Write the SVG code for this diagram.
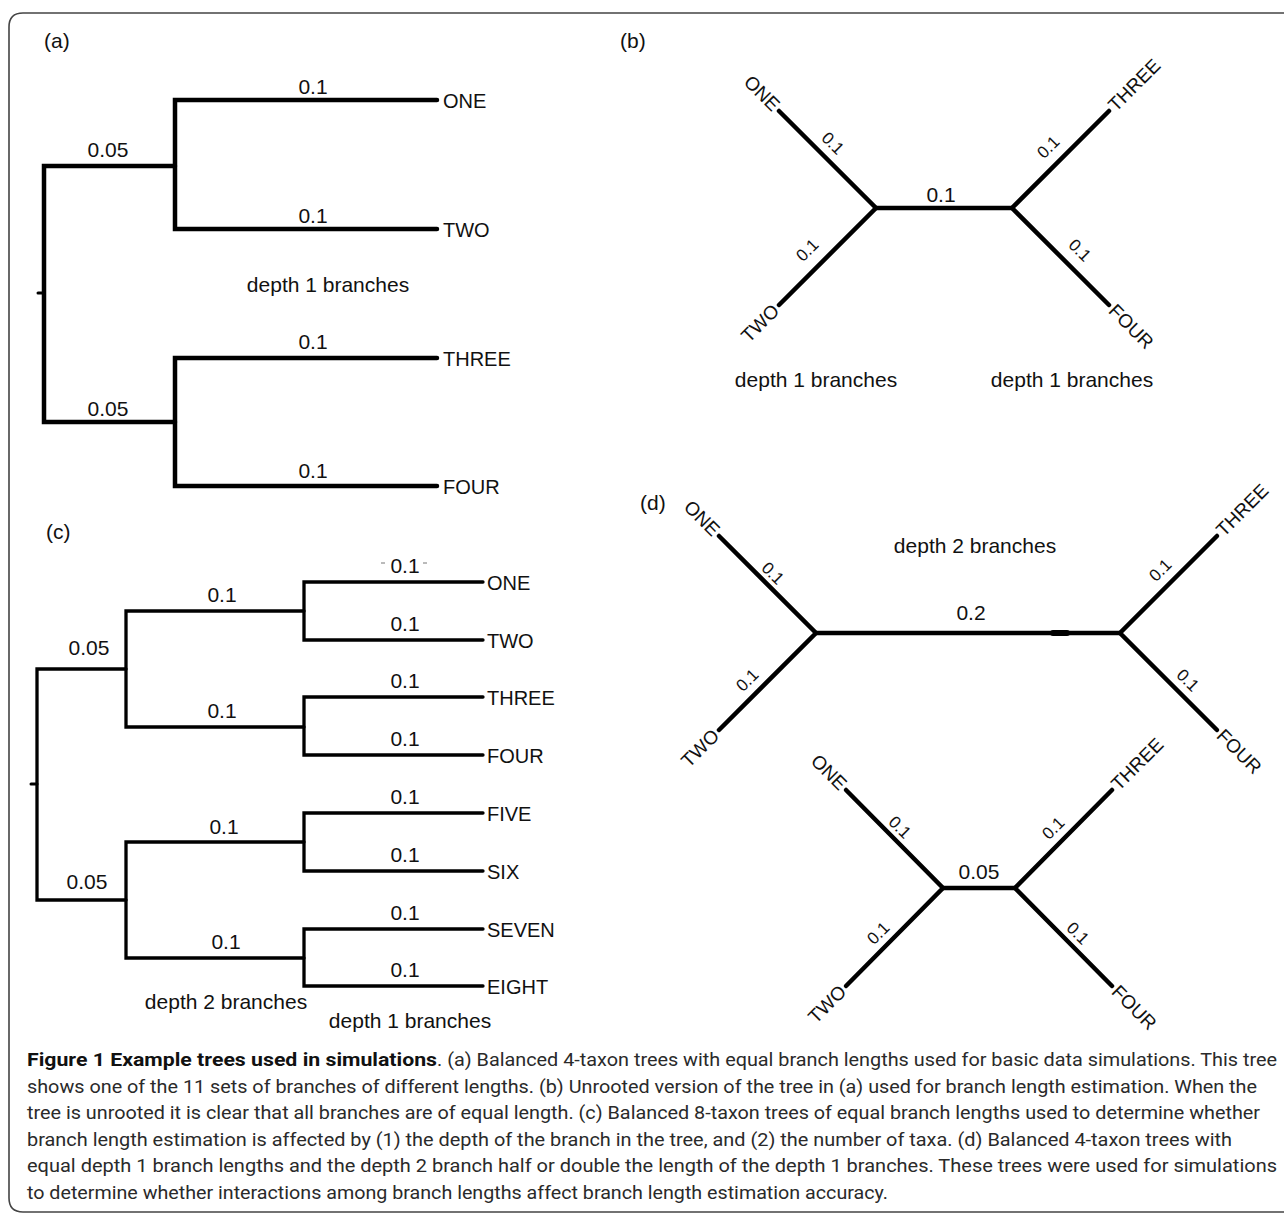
<svg xmlns="http://www.w3.org/2000/svg" width="1284" height="1213" viewBox="0 0 1284 1213">
<style>
text{font-family:"Liberation Sans",Arial,sans-serif;fill:#111}
.n{font-size:21px;text-anchor:middle}
.t{font-size:20px}
.r{font-size:17px;text-anchor:middle}
.rt{font-size:19px}
.e{text-anchor:end}
.d{font-size:21px;text-anchor:middle}
.p{font-size:21px}
.br{fill:none;stroke:#000;stroke-linecap:round;stroke-linejoin:miter}
.w4{stroke-width:4.5}
.w3{stroke-width:3.3}
.cap{font-family:Roboto,"Liberation Sans",sans-serif;font-size:18px;fill:#2a2a2a}
.capb{font-weight:bold;fill:#111}
</style>
<rect x="0" y="0" width="1284" height="1213" fill="#fff"/>
<path d="M1290,13 H23 Q9,13 9,27 V1198 Q9,1212 23,1212 H1290" fill="none" stroke="#444" stroke-width="1.6"/>

<g id="connectors">
  <!-- (a) -->
  <path class="br w4" d="M437,100 H175 V229 H437"/>
  <path class="br w4" d="M437,358 H175 V486 H437"/>
  <path class="br w4" d="M175,166 H44 V422 H175"/>
  <path class="br" stroke-width="3" d="M38,293 H44"/>
  <!-- (b) -->
  <path class="br w4" d="M779,111 L876,208 L779,305"/>
  <path class="br w4" d="M876,208 H1012"/>
  <path class="br w4" d="M1109,111 L1012,208 L1109,305"/>
  <!-- (c) -->
  <path class="br w3" d="M483,582 H304 V640 H483"/>
  <path class="br w3" d="M483,697 H304 V755 H483"/>
  <path class="br w3" d="M483,813 H304 V871 H483"/>
  <path class="br w3" d="M483,929 H304 V986 H483"/>
  <path class="br w3" d="M304,611 H126 V727 H304"/>
  <path class="br w3" d="M304,842 H126 V958 H304"/>
  <path class="br w3" d="M126,669 H37 V900 H126"/>
  <path class="br" stroke-width="3" d="M31,784 H37"/>
  <!-- (d) upper -->
  <path class="br w4" d="M719,536 L816,633 L719,730"/>
  <path class="br w4" d="M816,633 H1120"/>
  <path class="br" stroke-width="6" d="M1053,633 H1067"/>
  <path class="br w4" d="M1217,536 L1120,633 L1217,730"/>
  <!-- (d) lower -->
  <path class="br w4" d="M846,790 L943,888 L846,986"/>
  <path class="br w4" d="M943,888 H1015"/>
  <path class="br w4" d="M1112,790 L1015,888 L1112,986"/>
</g>

<g id="panel-a">
  <text id="a-label" class="p" x="44" y="48">(a)</text>
  <g id="a-one"><text class="t" x="443" y="108">ONE</text><text class="n" x="313" y="94">0.1</text></g>
  <g id="a-two"><text class="t" x="443" y="237">TWO</text><text class="n" x="313" y="223">0.1</text></g>
  <g id="a-three"><text class="t" x="443" y="366">THREE</text><text class="n" x="313" y="349">0.1</text></g>
  <g id="a-four"><text class="t" x="443" y="494">FOUR</text><text class="n" x="313" y="478">0.1</text></g>
  <g id="a-int1"><text class="n" x="108" y="157">0.05</text></g>
  <g id="a-int2"><text class="n" x="108" y="416">0.05</text></g>
  <text class="d" x="328" y="292">depth 1 branches</text>
</g>

<g id="panel-b">
  <text id="b-label" class="p" x="620" y="48">(b)</text>
  <g id="b-one"><text class="rt e" transform="translate(779,111) rotate(45)" x="-4" y="6">ONE</text><text class="r" transform="translate(833,143) rotate(45)" y="6">0.1</text></g>
  <g id="b-two"><text class="rt e" transform="translate(779,305) rotate(-45)" x="-4" y="6">TWO</text><text class="r" transform="translate(807,250) rotate(-45)" y="6">0.1</text></g>
  <g id="b-three"><text class="rt" transform="translate(1109,111) rotate(-45)" x="4" y="6">THREE</text><text class="r" transform="translate(1048,147) rotate(-45)" y="6">0.1</text></g>
  <g id="b-four"><text class="rt" transform="translate(1109,305) rotate(45)" x="4" y="6">FOUR</text><text class="r" transform="translate(1080,250) rotate(45)" y="6">0.1</text></g>
  <g id="b-int"><text class="n" x="941" y="202">0.1</text></g>
  <text class="d" x="816" y="387">depth 1 branches</text>
  <text class="d" x="1072" y="387">depth 1 branches</text>
</g>

<g id="panel-c">
  <text id="c-label" class="p" x="46" y="539">(c)</text>
  <g id="c-one"><text class="t" x="487" y="590">ONE</text><text class="n" x="405" y="573">0.1</text>
    <path d="M381,563 H385 M423,563 H427" stroke="#777" stroke-width="1"/></g>
  <g id="c-two"><text class="t" x="487" y="648">TWO</text><text class="n" x="405" y="631">0.1</text></g>
  <g id="c-three"><text class="t" x="487" y="705">THREE</text><text class="n" x="405" y="688">0.1</text></g>
  <g id="c-four"><text class="t" x="487" y="763">FOUR</text><text class="n" x="405" y="746">0.1</text></g>
  <g id="c-five"><text class="t" x="487" y="821">FIVE</text><text class="n" x="405" y="804">0.1</text></g>
  <g id="c-six"><text class="t" x="487" y="879">SIX</text><text class="n" x="405" y="862">0.1</text></g>
  <g id="c-seven"><text class="t" x="487" y="937">SEVEN</text><text class="n" x="405" y="920">0.1</text></g>
  <g id="c-eight"><text class="t" x="487" y="994">EIGHT</text><text class="n" x="405" y="977">0.1</text></g>
  <g id="c-d2a"><text class="n" x="222" y="602">0.1</text></g>
  <g id="c-d2b"><text class="n" x="222" y="718">0.1</text></g>
  <g id="c-d2c"><text class="n" x="224" y="834">0.1</text></g>
  <g id="c-d2d"><text class="n" x="226" y="949">0.1</text></g>
  <g id="c-r1"><text class="n" x="89" y="655">0.05</text></g>
  <g id="c-r2"><text class="n" x="87" y="889">0.05</text></g>
  <text class="d" x="226" y="1009">depth 2 branches</text>
  <text class="d" x="410" y="1028">depth 1 branches</text>
</g>

<g id="panel-d">
  <text id="d-label" class="p" x="640" y="510">(d)</text>
  <text class="d" x="975" y="553">depth 2 branches</text>
  <g id="d1-one"><text class="rt e" transform="translate(719,536) rotate(45)" x="-4" y="6">ONE</text><text class="r" transform="translate(773,573) rotate(45)" y="6">0.1</text></g>
  <g id="d1-two"><text class="rt e" transform="translate(719,730) rotate(-45)" x="-4" y="6">TWO</text><text class="r" transform="translate(747,680) rotate(-45)" y="6">0.1</text></g>
  <g id="d1-three"><text class="rt" transform="translate(1217,536) rotate(-45)" x="4" y="6">THREE</text><text class="r" transform="translate(1160,570) rotate(-45)" y="6">0.1</text></g>
  <g id="d1-four"><text class="rt" transform="translate(1217,730) rotate(45)" x="4" y="6">FOUR</text><text class="r" transform="translate(1188,680) rotate(45)" y="6">0.1</text></g>
  <g id="d1-int"><text class="n" x="971" y="620">0.2</text></g>
  <g id="d2-one"><text class="rt e" transform="translate(846,790) rotate(45)" x="-4" y="6">ONE</text><text class="r" transform="translate(900,827) rotate(45)" y="6">0.1</text></g>
  <g id="d2-two"><text class="rt e" transform="translate(846,986) rotate(-45)" x="-4" y="6">TWO</text><text class="r" transform="translate(878,933) rotate(-45)" y="6">0.1</text></g>
  <g id="d2-three"><text class="rt" transform="translate(1112,790) rotate(-45)" x="4" y="6">THREE</text><text class="r" transform="translate(1053,828) rotate(-45)" y="6">0.1</text></g>
  <g id="d2-four"><text class="rt" transform="translate(1112,986) rotate(45)" x="4" y="6">FOUR</text><text class="r" transform="translate(1078,933) rotate(45)" y="6">0.1</text></g>
  <g id="d2-int"><text class="n" x="979" y="879">0.05</text></g>
</g>

<g id="caption">
  <text class="cap capb" x="27" y="1066" textLength="410" lengthAdjust="spacingAndGlyphs">Figure 1 Example trees used in simulations</text>
  <text class="cap" x="437" y="1066" textLength="840" lengthAdjust="spacingAndGlyphs">. (a) Balanced 4-taxon trees with equal branch lengths used for basic data simulations. This tree</text>
  <text class="cap" x="27" y="1092.6" textLength="1230" lengthAdjust="spacingAndGlyphs">shows one of the 11 sets of branches of different lengths. (b) Unrooted version of the tree in (a) used for branch length estimation. When the</text>
  <text class="cap" x="27" y="1119.2" textLength="1233" lengthAdjust="spacingAndGlyphs">tree is unrooted it is clear that all branches are of equal length. (c) Balanced 8-taxon trees of equal branch lengths used to determine whether</text>
  <text class="cap" x="27" y="1145.8" textLength="1205" lengthAdjust="spacingAndGlyphs">branch length estimation is affected by (1) the depth of the branch in the tree, and (2) the number of taxa. (d) Balanced 4-taxon trees with</text>
  <text class="cap" x="27" y="1172.4" textLength="1250" lengthAdjust="spacingAndGlyphs">equal depth 1 branch lengths and the depth 2 branch half or double the length of the depth 1 branches. These trees were used for simulations</text>
  <text class="cap" x="27" y="1199" textLength="861" lengthAdjust="spacingAndGlyphs">to determine whether interactions among branch lengths affect branch length estimation accuracy.</text>
</g>
</svg>
